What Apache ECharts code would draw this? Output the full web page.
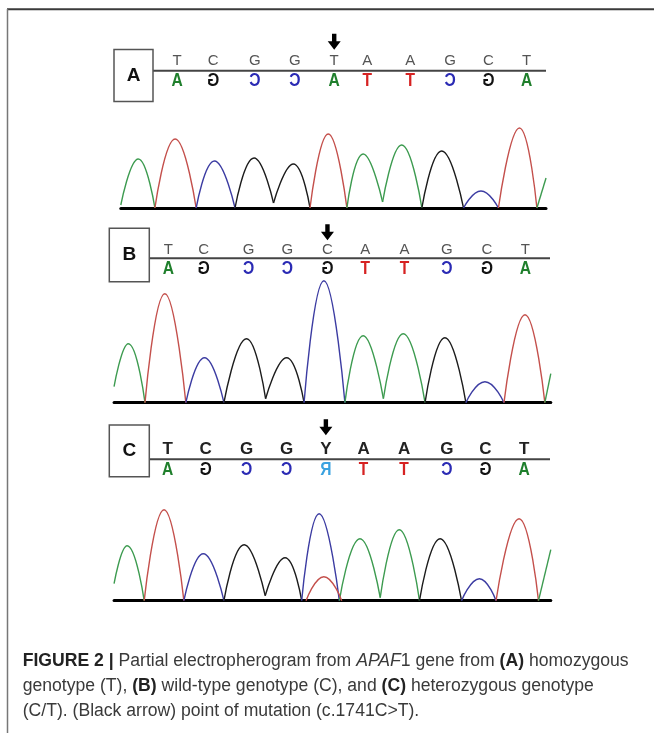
<!DOCTYPE html>
<html><head><meta charset="utf-8">
<script src="https://cdn.jsdelivr.net/npm/echarts@6/dist/echarts.min.js"></script>
<style>html,body{margin:0;padding:0;background:#fff}#c{width:654px;height:733px}</style>
</head><body><div id="c"></div>
<script>
// ---------------- data ----------------
const seqA = ['T','C','G','G','T','A','A','G','C','T'];
const seqB = ['T','C','G','G','C','A','A','G','C','T'];
const seqC = ['T','C','G','G','Y','A','A','G','C','T'];
// base-call positions (in base units)
const posA = [1.23, 2.14, 3.19, 4.20, 5.19, 6.02, 7.11, 8.11, 9.08, 10.04];
const posB = [1.01, 1.90, 3.03, 4.01, 5.02, 5.97, 6.96, 8.03, 9.04, 10.01];
const posC = [0.99, 1.95, 2.98, 3.99, 4.98, 5.93, 6.95, 8.03, 9.00, 9.98];
const mutationIndex = 4;

// traces: alternating valley / peak positions and signal heights
const traceXA = [-0.19, 0.25, 0.67, 1.18, 1.71, 2.17, 2.69, 3.17, 3.66, 4.16, 4.58, 5.04, 5.51, 5.92, 6.41, 6.89, 7.40, 7.90, 8.45, 8.89, 9.33, 9.86, 10.30, 10.53];
const traceHA = [3, 49, 0, 69, 0, 47, 0, 50, 5, 44, 0, 74, 0, 54, 6, 63, 0, 57, 0, 17, 0, 80, 0, 30];
const peakBaseA = ['A','T','C','G','G','T','A','A','G','C','T','A'];

const traceXB = [-0.36, 0.00, 0.42, 0.92, 1.45, 1.92, 2.41, 2.98, 3.46, 3.99, 4.43, 4.93, 5.46, 5.92, 6.43, 6.93, 7.48, 7.98, 8.51, 8.99, 9.47, 10.00, 10.50, 10.65];
const traceHB = [16, 59, 0, 109, 0, 45, 0, 64, 4, 45, 0, 122, 0, 67, 4, 69, 0, 65, 0, 21, 0, 88, 0, 29];
const peakBaseB = ['A','T','C','G','G','C','A','A','G','C','T','A'];

const traceXC = [-0.36, -0.03, 0.40, 0.90, 1.40, 1.89, 2.41, 2.92, 3.45, 3.95, 4.37, 4.81, 5.32, 5.84, 6.35, 6.83, 7.34, 7.86, 8.40, 8.85, 9.27, 9.85, 10.34, 10.65];
const traceHC = [17, 55, 0, 91, 0, 47, 0, 56, 5, 43, 0, 87, 0, 62, 3, 71, 0, 62, 0, 22, 0, 82, 0, 51];
const peakBaseC = ['A','T','C','G','G','C','A','A','G','C','T','A'];
const overlayXC = [4.48, 4.93, 5.38];
const overlayHC = [0, 24, 0];
const overlayBaseC = 'T';

const panelLabels = ['A', 'B', 'C'];
const captionLines = [
  '{b|FIGURE 2 |} Partial electropherogram from {i|APAF}1 gene from {b|(A)} homozygous',
  'genotype (T), {b|(B)} wild-type genotype (C), and {b|(C)} heterozygous genotype',
  '(C/T). (Black arrow) point of mutation (c.1741C>T).'
];

// ---------------- styles / layout ----------------
const LETTER_COLOR = {A:'#1f7f2c', C:'#2a2ab4', G:'#111111', T:'#d62222', R:'#3aa2e0'};
const TRACE_COLOR = {A:'#3d9b50', C:'#3c3ca2', G:'#1c1c1c', T:'#c4504c'};
const COMP = {A:'T', T:'A', C:'G', G:'C', Y:'R'};
const X0 = 168, UNIT = 39.667;
const px = u => X0 + (u - 1) * UNIT;
const YMAX = 130;
const CAP_FONT = 17.6;

const panels = [
  {seq: seqA, pos: posA, tx: traceXA, th: traceHA, pb: peakBaseA, baseY: 208, lineY: 70.7,
   box: {x:114, y:49.5, w:39, h:52}, lineEnd: 546, tip: 21, upFont: '15px "Liberation Sans"', upColor:'#555', upOff: -9.5},
  {seq: seqB, pos: posB, tx: traceXB, th: traceHB, pb: peakBaseB, baseY: 402.7, lineY: 258.3,
   box: {x:109.3, y:228.3, w:40, h:53.4}, lineEnd: 550, tip: 18, upFont: '15px "Liberation Sans"', upColor:'#555', upOff: -8.5},
  {seq: seqC, pos: posC, tx: traceXC, th: traceHC, pb: peakBaseC, baseY: 600.7, lineY: 459.3,
   box: {x:109.3, y:425, w:40, h:51.7}, lineEnd: 550, tip: 24, upFont: 'bold 17px "Liberation Sans"', upColor:'#222', upOff: -9.5,
   overlay: {x: overlayXC, h: overlayHC, base: overlayBaseC}}
];

const grids = [], xAxes = [], yAxes = [], series = [], graphics = [];

panels.forEach((p, k) => {
  const xmin = p.tx[0], xmax = p.tx[p.tx.length - 1];
  const left = px(xmin), width = px(xmax) - px(xmin);
  // trace grid
  const gT = grids.length;
  grids.push({left, width, top: p.baseY - YMAX, height: YMAX});
  xAxes.push({type:'value', gridIndex: gT, min: xmin, max: xmax,
    axisLine:{show:true, onZero:false, lineStyle:{color:'#000', width:3}},
    axisTick:{show:false}, axisLabel:{show:false}, splitLine:{show:false}});
  yAxes.push({type:'value', gridIndex: gT, min: 0, max: YMAX, show:false});
  // sequence grid
  const gS = grids.length;
  grids.push({left, width, top: p.lineY - 30, height: 60});
  xAxes.push({type:'value', gridIndex: gS, min: xmin, max: xmax, show:false});
  yAxes.push({type:'value', gridIndex: gS, min: 0, max: 1, show:false});

  // trace segments
  const nPeaks = p.pb.length;
  for (let i = 0; i < nPeaks; i++) {
    const data = [];
    for (let j = 2*i; j <= 2*i + 2 && j < p.tx.length; j++) data.push([p.tx[j], p.th[j]]);
    series.push({type:'line', xAxisIndex: gT, yAxisIndex: gT, data, smooth: 0.5,
      symbol:'none', silent:true, clip:false, z: 3,
      lineStyle:{color: TRACE_COLOR[p.pb[i]], width: 1.4}});
  }
  if (p.overlay) {
    series.push({type:'line', xAxisIndex: gT, yAxisIndex: gT,
      data: p.overlay.x.map((x, i) => [x, p.overlay.h[i]]), smooth: 0.5,
      symbol:'none', silent:true, clip:false, z: 4,
      lineStyle:{color: TRACE_COLOR[p.overlay.base], width: 1.4}});
  }

  // letters + arrow
  series.push({type:'custom', xAxisIndex: gS, yAxisIndex: gS, silent: true, clip:false, z: 5,
    data: p.pos.map((v, i) => [v, i]),
    renderItem(params, api) {
      const i = api.value(1);
      const x = api.coord([api.value(0), 0])[0];
      const cs = params.coordSys;
      const ly = cs.y + cs.height / 2;
      const b = p.seq[i], c = COMP[b];
      const children = [
        {type:'text', x, y: ly + p.upOff, style:{text: b, fill: p.upColor, font: p.upFont, align:'center', verticalAlign:'middle'}},
        {type:'text', x, y: ly + 10.2, scaleX: -0.82, style:{text: c, fill: LETTER_COLOR[c], font: 'bold 19px "Liberation Sans"', align:'center', verticalAlign:'middle'}}
      ];
      if (i === mutationIndex) {
        const t = ly - p.tip;
        children.push({type:'polygon', shape:{points:[[x-2.2,t-16],[x+2.2,t-16],[x+2.2,t-8.5],[x+6.5,t-8.5],[x,t],[x-6.5,t-8.5],[x-2.2,t-8.5]]},
          style:{fill:'#000'}});
      }
      return {type:'group', children};
    }
  });

  // panel box, label and sequence line
  graphics.push({type:'rect', shape:{x:p.box.x, y:p.box.y, width:p.box.w, height:p.box.h},
    style:{fill:'#fff', stroke:'#555', lineWidth:1.5}, z: 10});
  graphics.push({type:'text', x: p.box.x + p.box.w/2, y: p.box.y + p.box.h/2,
    style:{text: panelLabels[k], font:'bold 19px "Liberation Sans"', fill:'#111', align:'center', verticalAlign:'middle'}, z: 11});
  graphics.push({type:'line', shape:{x1: p.box.x + p.box.w, y1: p.lineY, x2: p.lineEnd, y2: p.lineY},
    style:{stroke:'#444', lineWidth:2}, z: 1});
});

// frame
graphics.push({type:'line', shape:{x1:7, y1:9.3, x2:654, y2:9.3}, style:{stroke:'#3a3a3a', lineWidth:2}});
graphics.push({type:'line', shape:{x1:7.5, y1:9, x2:7.5, y2:733}, style:{stroke:'#777', lineWidth:1.5}});

// caption
const capY = [661, 686, 711];
captionLines.forEach((t, i) => {
  graphics.push({type:'text', x: 22.7, y: capY[i], style:{
    text: t, font: CAP_FONT + 'px "Liberation Sans"', fill:'#3a3a3a', verticalAlign:'middle', align:'left',
    rich: {
      b: {font:'bold ' + CAP_FONT + 'px "Liberation Sans"', fill:'#222'},
      i: {font:'italic ' + CAP_FONT + 'px "Liberation Sans"', fill:'#3a3a3a'}
    }}});
});

const chart = echarts.init(document.getElementById('c'), null, {renderer:'canvas'});
chart.setOption({
  animation: false,
  backgroundColor: '#fff',
  grid: grids, xAxis: xAxes, yAxis: yAxes, series, graphic: graphics
});
</script>
</body></html>
